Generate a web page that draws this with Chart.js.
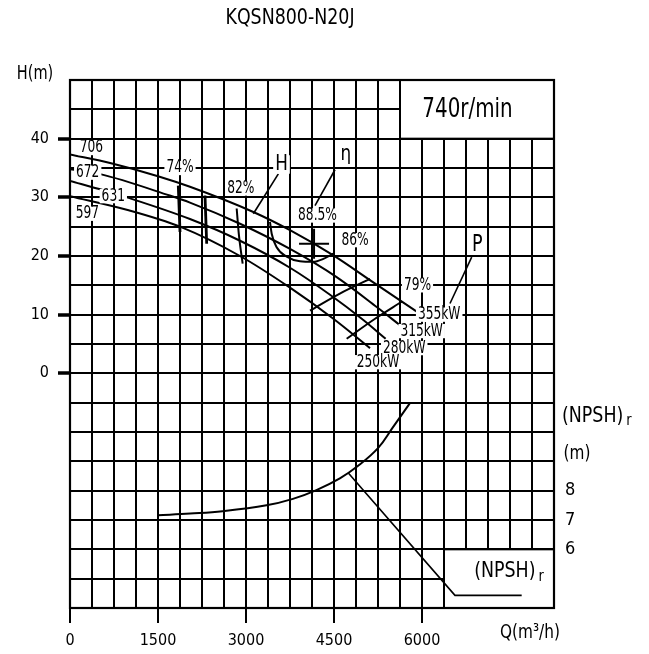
<!DOCTYPE html>
<html>
<head>
<meta charset="utf-8">
<title>KQSN800-N20J</title>
<script src="https://cdn.jsdelivr.net/npm/chart.js@4.4.1/dist/chart.umd.min.js"></script>
<style>
  html, body { margin: 0; padding: 0; background: #fff; }
  #wrap { width: 649px; height: 654px; }
</style>
</head>
<body>
<div id="wrap"><canvas id="pumpChart" width="649" height="654"></canvas></div>
<script>
"use strict";
const FONT = '"DejaVu Sans Condensed", "DejaVu Sans", sans-serif';

// H-Q curves, one per impeller diameter (mm)
const q706 = [0, 700, 1500, 2045, 3125, 3750, 4489, 5170, 5930];
const h706 = [37.3, 35.8, 33.6, 31.8, 27.5, 24.4, 20.1, 15.5, 10.4];
const q672 = [0, 500, 1700, 2045, 2898, 3750, 4545, 5228, 5625];
const h672 = [34.8, 34.0, 30.3, 29.1, 25.5, 21.2, 16.4, 11.3, 8.2];
const q631 = [0, 570, 1000, 2045, 2898, 3750, 4432, 5000, 5380];
const h631 = [32.8, 31.2, 29.9, 26.3, 22.6, 18.0, 13.4, 9.1, 5.9];
const q597 = [0, 1000, 1875, 2898, 3750, 4489, 5114];
const h597 = [30.2, 27.8, 25.0, 20.0, 14.6, 9.3, 4.3];

// iso-efficiency lines
const qEff74a = [1846, 1875];
const hEff74a = [32.0, 24.1];
const qEff74b = [2301, 2330];
const hEff74b = [30.3, 22.1];
const qEff82 = [2841, 2880, 2943];
const hEff82 = [28.1, 23.5, 18.7];
const qEff885 = [3409, 3438, 3523, 3694, 3920, 4147, 4318, 4488];
const hEff885 = [25.8, 23.8, 21.5, 19.9, 19.1, 19.0, 19.5, 20.4];
const qEff86 = [4091, 4600, 5114];
const hEff86 = [10.7, 13.6, 16.1];
const qEff79 = [4716, 5200, 5654];
const hEff79 = [5.9, 9.3, 12.2];

// best efficiency point
const qBep = [4160];
const hBep = [22.1];

// (NPSH)r curve, m
const qNpsh = [1500, 2050, 2600, 3350, 3800, 4200, 4600, 4900, 5250, 5500, 5800];
const npsh = [7.16, 7.22, 7.3, 7.5, 7.72, 8.02, 8.42, 8.83, 9.45, 10.15, 11.0];

// leader lines to the curve names
const qLeadH = [3551, 3125];
const hLeadH = [34.0, 27.2];
const qLeadEta = [4517, 4176];
const hLeadEta = [34.7, 28.6];
const qLeadP = [6847, 6477];
const hLeadP = [19.8, 11.9];
const qLeadNpsh = [4744, 6562, 7699];
const vLeadNpsh = [8.6, 4.43, 4.43];

const xTickLabels = [0, 1500, 3000, 4500, 6000];
const yTickLabels = [0, 10, 20, 30, 40];
const npshTickLabels = [6, 7, 8];

const notes = [
    { text: '706', q: 366, h: 38.4, size: 17 },
    { text: '672', q: 302, h: 34.2, size: 17 },
    { text: '631', q: 738, h: 30.2, size: 17 },
    { text: '597', q: 298, h: 27.2, size: 17 },
    { text: '74%', q: 1875, h: 35.0, size: 17 },
    { text: '82%', q: 2911, h: 31.5, size: 17 },
    { text: 'H', q: 3605, h: 35.6, size: 22 },
    { text: 'η', q: 4701, h: 37.3, size: 22 },
    { text: '88.5%', q: 4219, h: 26.9, size: 17 },
    { text: '86%', q: 4858, h: 22.7, size: 17 },
    { text: '79%', q: 5923, h: 15.0, size: 17 },
    { text: '355kW', q: 6293, h: 10.0, size: 17 },
    { text: '315kW', q: 5995, h: 7.2, size: 17 },
    { text: '280kW', q: 5697, h: 4.3, size: 17 },
    { text: '250kW', q: 5250, h: 1.9, size: 17 },
    { text: 'P', q: 6941, h: 21.9, size: 23 },
    { text: '740r/min', q: 6776, h: 44.8, size: 26 }
];

// areas of the grid left blank (speed box, NPSH caption box)
const blankBoxes = [
    { q0: 5625, q1: 8250, h0: 40, h1: 50 },
    { q0: 6375, q1: 8250, h0: -40, h1: -30 }
];

function pts(xs, ys) {
    return xs.map((x, i) => ({ x: x, y: ys[i] }));
}

function curve(xs, ys, extra) {
    return Object.assign({
        data: pts(xs, ys),
        borderColor: '#000',
        borderWidth: 2,
        pointRadius: 0,
        fill: false,
        cubicInterpolationMode: 'monotone'
    }, extra || {});
}

// narrow drawing-office lettering: squeeze the condensed face horizontally
function putText(ctx, s, x, y, size, align, blank, sx) {
    sx = sx || 0.8;
    ctx.font = size + 'px ' + FONT;
    ctx.textAlign = 'left';
    ctx.textBaseline = 'middle';
    const w = ctx.measureText(s).width * sx;
    const left = align === 'left' ? x : x - w / 2;
    if (blank) {
        ctx.fillStyle = '#fff';
        ctx.fillRect(left - 2, y - size * 0.42, w + 4, size * 0.84);
    }
    ctx.save();
    ctx.translate(left, y);
    ctx.scale(sx, 1);
    ctx.fillStyle = '#000';
    ctx.fillText(s, 0, 0);
    ctx.restore();
    return w;
}

function npshCaption(ctx, left, y) {
    const w = putText(ctx, '(NPSH)', left, y, 22, 'left', false, 0.88);
    putText(ctx, 'r', left + w + 3, y + 5, 16, 'left', false, 0.9);
}

const overlay = {
    id: 'overlay',
    beforeDatasetsDraw(chart) {
        const { ctx, chartArea: a, scales: { x, y } } = chart;
        ctx.save();
        blankBoxes.forEach(b => {
            const x0 = x.getPixelForValue(b.q0), x1 = x.getPixelForValue(b.q1);
            const y0 = y.getPixelForValue(b.h1), y1 = y.getPixelForValue(b.h0);
            ctx.fillStyle = '#fff';
            ctx.fillRect(x0, y0, x1 - x0, y1 - y0);
            ctx.strokeStyle = '#000';
            ctx.lineWidth = 2;
            ctx.strokeRect(x0, y0, x1 - x0, y1 - y0);
        });
        ctx.lineWidth = 2.2;
        ctx.strokeRect(a.left, a.top, a.width, a.height);
        ctx.restore();
    },
    afterDatasetsDraw(chart) {
        const { ctx, scales: { x, y } } = chart;
        ctx.save();
        notes.forEach(n => {
            const sx = n.size > 20 ? 0.85 : 0.8;
            putText(ctx, n.text, x.getPixelForValue(n.q), y.getPixelForValue(n.h), n.size, 'center', true, sx);
        });
        npshCaption(ctx, x.getPixelForValue(6890), y.getPixelForValue(-33.8));
        putText(ctx, 'KQSN800-N20J', 290, 18, 22, 'center', false, 0.88);
        putText(ctx, 'H(m)', 35, 74, 19, 'center', false, 0.85);
        putText(ctx, 'Q(m³/h)', 530, 633, 20, 'center', false, 0.85);
        npshCaption(ctx, 562, 416);
        putText(ctx, '(m)', 577, 454, 20, 'center', false, 0.85);
        ctx.restore();
    }
};

document.addEventListener('DOMContentLoaded', () => {
    const tickFont = { family: FONT, size: 16 };
    new Chart(document.getElementById('pumpChart'), {
        type: 'line',
        data: {
            datasets: [
                curve(q706, h706),
                curve(q672, h672),
                curve(q631, h631),
                curve(q597, h597),
                curve(qEff74a, hEff74a, { borderWidth: 2.8 }),
                curve(qEff74b, hEff74b, { borderWidth: 2.8 }),
                curve(qEff82, hEff82),
                curve(qEff885, hEff885),
                curve(qEff86, hEff86),
                curve(qEff79, hEff79),
                curve(qLeadH, hLeadH, { borderWidth: 1.6 }),
                curve(qLeadEta, hLeadEta, { borderWidth: 1.6 }),
                curve(qLeadP, hLeadP, { borderWidth: 1.6 }),
                curve(qBep, hBep, { showLine: false, pointStyle: 'cross', pointRadius: 15, pointBorderWidth: 2, pointBorderColor: '#000' }),
                curve(qNpsh, npsh, { yAxisID: 'y2', cubicInterpolationMode: 'default', tension: 0.4 }),
                curve(qLeadNpsh, vLeadNpsh, { yAxisID: 'y2', borderWidth: 1.6, cubicInterpolationMode: 'default', tension: 0 })
            ]
        },
        options: {
            responsive: false,
            devicePixelRatio: 1,
            animation: false,
            layout: { padding: { top: 80, right: 0, left: 0, bottom: 0 } },
            plugins: { legend: { display: false }, tooltip: { enabled: false } },
            scales: {
                x: {
                    type: 'linear', min: 0, max: 8250,
                    afterFit: s => { s.height = 46; },
                    border: { display: false },
                    grid: {
                        color: '#000', lineWidth: 2, tickLength: 15, tickWidth: 2,
                        tickColor: c => xTickLabels.includes(c.tick.value) ? '#000' : 'rgba(0,0,0,0)'
                    },
                    ticks: {
                        stepSize: 375, autoSkip: false, maxRotation: 0, padding: 8,
                        color: '#000', font: tickFont,
                        callback: v => xTickLabels.includes(v) ? String(v) : ''
                    }
                },
                y: {
                    min: -40, max: 50,
                    afterFit: s => { s.width = 70; },
                    border: { display: false },
                    grid: {
                        color: '#000', lineWidth: 2, tickLength: 12, tickWidth: 3.5,
                        tickColor: c => yTickLabels.includes(c.tick.value) ? '#000' : 'rgba(0,0,0,0)'
                    },
                    ticks: {
                        stepSize: 5, autoSkip: false, padding: 9,
                        color: '#000', font: tickFont,
                        callback: v => yTickLabels.includes(v) ? String(v) : ''
                    }
                },
                y2: {
                    position: 'right', min: 4, max: 22,
                    afterFit: s => { s.width = 95; },
                    border: { display: false },
                    grid: { display: false, drawOnChartArea: false, drawTicks: false },
                    ticks: {
                        stepSize: 1, autoSkip: false, padding: 11,
                        color: '#000', font: { family: FONT, size: 18 },
                        callback: v => npshTickLabels.includes(v) ? String(v) : ''
                    }
                }
            }
        },
        plugins: [overlay]
    });
});
</script>
</body>
</html>
